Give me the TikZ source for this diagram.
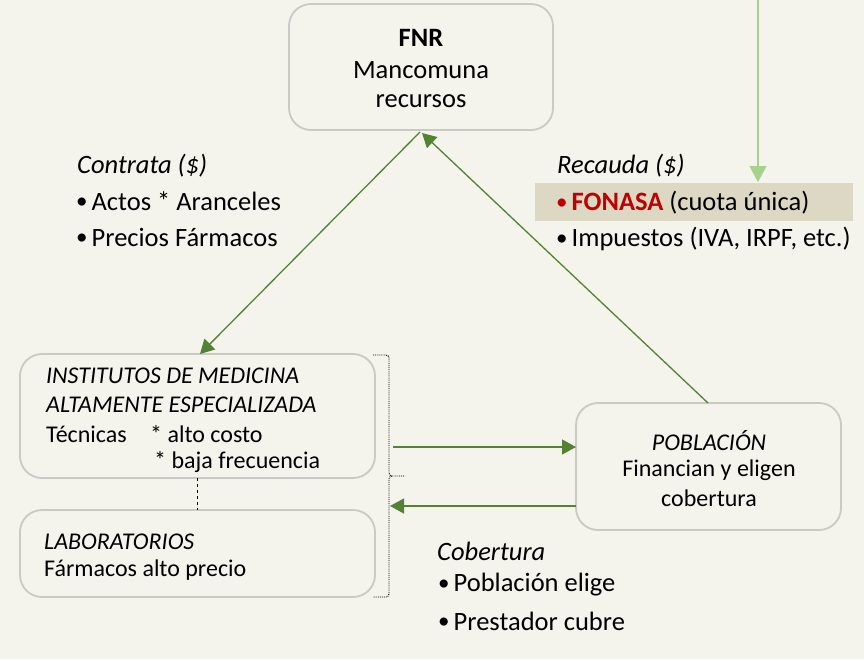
\documentclass[tikz,border=0pt]{standalone}
\usepackage{fontspec}
\setmainfont{Carlito}
\usetikzlibrary{arrows.meta}
\definecolor{bgc}{HTML}{F4F3EC}
\definecolor{boxline}{HTML}{C9C9C6}
\definecolor{dgreen}{HTML}{548235}
\definecolor{lgreen}{HTML}{A9D18E}
\definecolor{hl}{HTML}{DDD8C3}
\definecolor{fred}{HTML}{C00000}
\tikzset{
  rbox/.style={draw=boxline, line width=1.8pt, rounded corners=22pt, fill=bgc},
  txt/.style={font=\fontsize{26.5}{30}\selectfont, inner sep=0pt, anchor=west},
  stxt/.style={font=\fontsize{24}{28}\selectfont, inner sep=0pt, anchor=west},
  ctxt/.style={font=\fontsize{26.5}{30}\selectfont, inner sep=0pt, anchor=center},
  sctxt/.style={font=\fontsize{24}{28}\selectfont, inner sep=0pt, anchor=center},
  garrow/.style={draw=dgreen, line width=1.3pt, -{Triangle[length=14pt,width=15pt]}},
  larrow/.style={draw=lgreen, line width=1.3pt, -{Triangle[length=16pt,width=17pt]}},
  dotbr/.style={draw=black, line width=0.9pt, densely dotted},
}
\newcommand{\bul}{\raisebox{1.5pt}{\fontsize{23}{23}\selectfont •}\hspace{4pt}}
\begin{document}
\begin{tikzpicture}[x=1pt,y=-1pt]
\useasboundingbox[fill=bgc] (0,0) rectangle (864,659);
% boxes
\draw[rbox] (289,4) rectangle (553,130);
\coordinate (fnrb1) at (420,132);
\coordinate (fnrb2) at (422,133);
\draw[rbox] (20,354) rectangle (375,478);
\draw[rbox] (20,510) rectangle (375,597);
\draw[rbox] (576,403) rectangle (841,530);
% FNR text
\node[ctxt, font=\fontsize{26.5}{30}\bfseries] (fnr) at (421,38) {FNR};
\node[ctxt] (fnr2) at (421,70) {Mancomuna};
\node[ctxt] (fnr3) at (421,101) {recursos};
% highlight
\fill[hl] (535,183) rectangle (853,221);
% left labels
\node[txt] (contr) at (77,166) {\itshape Contrata (\$)};
\node[txt] (actos) at (76,201) {\bul Actos * Aranceles};
\node[txt] (prec) at (76,237) {\bul Precios Fármacos};
% right labels
\node[txt] (rec) at (557,166) {\itshape Recauda (\$)};
\node[txt] (fon) at (556,203) {\textcolor{fred}{\bul\bfseries FONASA} (cuota única)};
\node[txt] (imp) at (556,239) {\bul Impuestos (IVA, IRPF, etc.)};
% institutos text
\node[stxt] (in1) at (46,376) {\itshape INSTITUTOS DE MEDICINA};
\node[stxt] (in2) at (46,405) {\itshape ALTAMENTE ESPECIALIZADA};
\node[stxt] (in3) at (46,434) {Técnicas};
\node[stxt] (in4) at (150,434) {* alto costo};
\node[stxt] (in5) at (154,462) {* baja frecuencia};
% laboratorios
\node[stxt] (lab1) at (44,542) {\itshape LABORATORIOS};
\node[stxt] (lab2) at (44,570) {Fármacos alto precio};
% poblacion
\node[sctxt] (pob1) at (709,441) {\itshape POBLACIÓN};
\node[sctxt] (pob2) at (709,470) {Financian y eligen};
\node[sctxt] (pob3) at (709,498) {cobertura};
% cobertura
\node[txt] (cob) at (437,551) {\itshape Cobertura};
\node[txt] (cob1) at (438,585) {\bul Población elige};
\node[txt] (cob2) at (438,621) {\bul Prestador cubre};
% coordinates
\coordinate (insttop) at (200,354);
\coordinate (pobtop) at (708,403);
\coordinate (topsrc) at (758,0);
\coordinate (hltop) at (758,182);
\coordinate (pobl1) at (576,447);
\coordinate (brk1) at (393,447);
\coordinate (pobl2) at (576,506);
\coordinate (brk2) at (390,506);
\coordinate (ib) at (197,478);
\coordinate (lt) at (197,510);
% arrows
\draw[garrow] (fnrb1) -- (insttop);
\draw[garrow] (pobtop) -- (fnrb2);
\draw[larrow] (topsrc) -- (hltop);
\draw[garrow] (brk1) -- (pobl1);
\draw[garrow] (pobl2) -- (brk2);
% dashed connector
\draw[draw=black, line width=0.8pt, dashed] (ib) -- (lt);
% dotted bracket
\draw[dotbr] (373,355) -- (386,355) to[out=0,in=90] (389,358) -- (389,473) to[out=270,in=180] (392,476) -- (405,476);
\draw[dotbr] (392,476) to[out=180,in=90] (389,479) -- (389,594) to[out=270,in=0] (386,597) -- (373,597);
\end{tikzpicture}
\end{document}
